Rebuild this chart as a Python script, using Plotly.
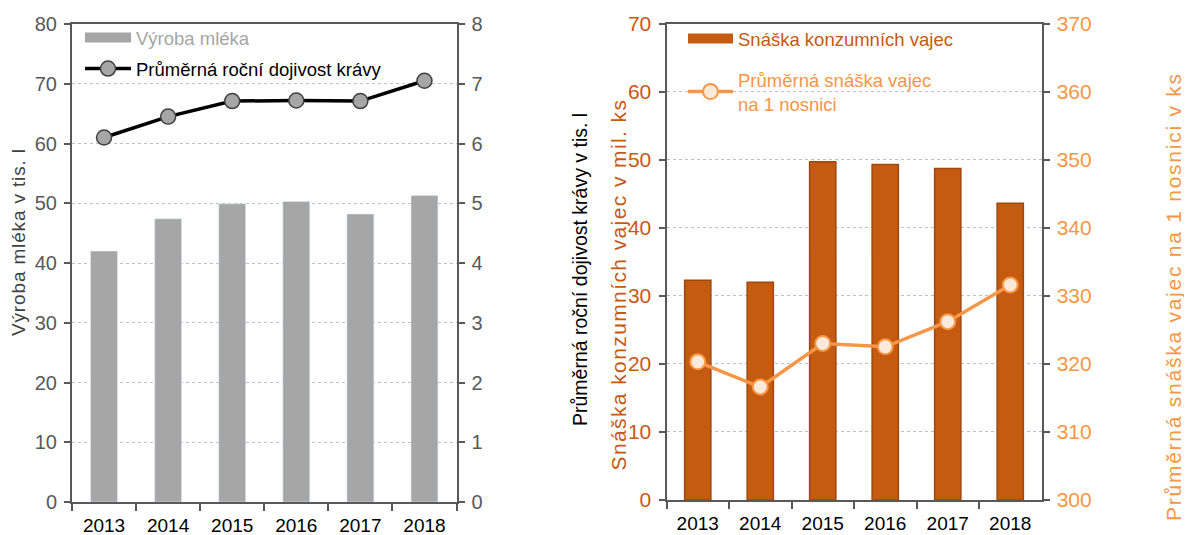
import plotly.graph_objects as go

years = ["2013", "2014", "2015", "2016", "2017", "2018"]
milk_production = [42.0, 47.4, 49.9, 50.3, 48.2, 51.3]          # tis. l
milk_yield = [6.10, 6.45, 6.71, 6.72, 6.71, 7.05]               # tis. l per cow
egg_production = [32.3, 32.0, 49.7, 49.3, 48.7, 43.6]           # mil. ks
eggs_per_hen = [320.3, 316.6, 323.0, 322.5, 326.2, 331.6]       # ks

FONT = "Liberation Sans, Arial, sans-serif"
GRAY_BAR = "#A6A6A6"
DARK = "#595959"
ORANGE = "#C55A11"
ORANGE_EDGE = "#9E480E"
LORANGE = "#F79646"

fig = go.Figure()

# ---- left panel
fig.add_trace(go.Bar(x=years, y=milk_production, marker_color=GRAY_BAR, width=0.42,
                     xaxis="x", yaxis="y", showlegend=False, name="Výroba mléka"))
fig.add_trace(go.Scatter(x=[None], y=[None], mode="lines", line=dict(color=GRAY_BAR, width=13),
                         name="<span style='color:#A6A6A6'>Výroba mléka</span>",
                         xaxis="x", yaxis="y", legend="legend", legendgroup="a"))
fig.add_trace(go.Scatter(x=years, y=milk_yield, mode="lines+markers",
                         line=dict(color="#000000", width=3.5),
                         marker=dict(size=15, color=GRAY_BAR, line=dict(color="#404040", width=1.5)),
                         name="Průměrná roční dojivost krávy",
                         xaxis="x", yaxis="y2", legend="legend", legendgroup="b"))

# ---- right panel
fig.add_trace(go.Bar(x=years, y=egg_production, marker=dict(color=ORANGE, line=dict(color=ORANGE_EDGE, width=1.5)),
                     width=0.42, xaxis="x2", yaxis="y3", showlegend=False,
                     name="Snáška konzumních vajec"))
fig.add_trace(go.Scatter(x=[None], y=[None], mode="lines", line=dict(color=ORANGE, width=13),
                         name="<span style='color:#C55A11'>Snáška konzumních vajec</span>",
                         xaxis="x2", yaxis="y3", legend="legend2", legendgroup="c"))
fig.add_trace(go.Scatter(x=years, y=eggs_per_hen, mode="lines+markers",
                         line=dict(color=LORANGE, width=3.5),
                         marker=dict(size=15, color="#FDE9D9", line=dict(color=LORANGE, width=2)),
                         name="<span style='color:#F79646'>Průměrná snáška vajec<br>na 1 nosnici</span>",
                         xaxis="x2", yaxis="y4", legend="legend2", legendgroup="d"))

# page body has an 8px margin, so work in window pixels and convert
OFF = 8
W, H = 1192 - OFF, 535 - OFF
def px(v): return (v - OFF) / W
def py(v): return 1 - (v - OFF) / H

xcommon = dict(type="category", tickson="boundaries", ticks="outside", ticklen=7, tickwidth=1.5,
               tickcolor=DARK, showline=True, linecolor=DARK, linewidth=2, mirror=True,
               tickfont=dict(family=FONT, size=19, color="#000000"), ticklabelstandoff=5,
               showgrid=False, automargin=False)
ycommon = dict(ticks="outside", ticklen=6, tickwidth=1.5, tickcolor=DARK, showline=True,
               linecolor=DARK, linewidth=2, zeroline=False, automargin=False, ticklabelstandoff=3)

fig.update_layout(
    width=W, height=H, margin=dict(l=0, r=0, t=0, b=0),
    paper_bgcolor="white", plot_bgcolor="white",
    font=dict(family=FONT, size=18, color="#000000"),
    xaxis=dict(domain=[px(72), px(456.5)], anchor="y", **xcommon),
    yaxis=dict(domain=[py(502), py(24)], range=[0, 80], dtick=10,
               showgrid=True, gridcolor="#BFBFBF", griddash="dot", gridwidth=1,
               tickfont=dict(family=FONT, size=20, color=DARK), **ycommon),
    yaxis2=dict(overlaying="y", side="right", anchor="x", range=[0, 8], dtick=1, showgrid=False,
                tickfont=dict(family=FONT, size=20, color=DARK), **ycommon),
    xaxis2=dict(domain=[px(666.5), px(1041.5)], anchor="y3", **xcommon),
    yaxis3=dict(domain=[py(500), py(23.5)], anchor="x2", range=[0, 70], dtick=10,
                showgrid=True, gridcolor="#BFBFBF", griddash="dot", gridwidth=1,
                tickfont=dict(family=FONT, size=21, color=ORANGE), **ycommon),
    yaxis4=dict(overlaying="y3", side="right", anchor="x2", range=[300, 370], dtick=10, showgrid=False,
                tickfont=dict(family=FONT, size=21, color=LORANGE), **ycommon),
    legend=dict(x=px(80), y=py(19), xanchor="left", yanchor="top", bgcolor="rgba(0,0,0,0)",
                font=dict(family=FONT, size=18.5), itemwidth=46, tracegroupgap=4, itemclick=False),
    legend2=dict(x=px(683), y=py(20), xanchor="left", yanchor="top", bgcolor="rgba(0,0,0,0)",
                 font=dict(family=FONT, size=18.5), itemwidth=45, tracegroupgap=14, itemclick=False),
)

# axis titles (placed where the reference has them)
titles = [
    ("Výroba mléka v tis. l", 18, 242, 19, 0.85, "#404040"),
    ("Průměrná roční dojivost krávy v tis. l", 580, 270, 19.5, 0, "#000000"),
    ("Snáška konzumních vajec v mil. ks", 618, 284.5, 21, 1.4, ORANGE),
    ("Průměrná snáška vajec na 1 nosnici v ks", 1173, 297, 21, 1.75, LORANGE),
]
for text, cx, cy, size, spacing, color in titles:
    label = f"<span style='letter-spacing:{spacing}px'>{text}</span>" if spacing else text
    fig.add_annotation(text=label, xref="paper", yref="paper", x=px(cx), y=py(cy),
                       xanchor="center", yanchor="middle", textangle=-90, showarrow=False,
                       font=dict(family=FONT, size=size, color=color))

fig.write_html("out.html")
